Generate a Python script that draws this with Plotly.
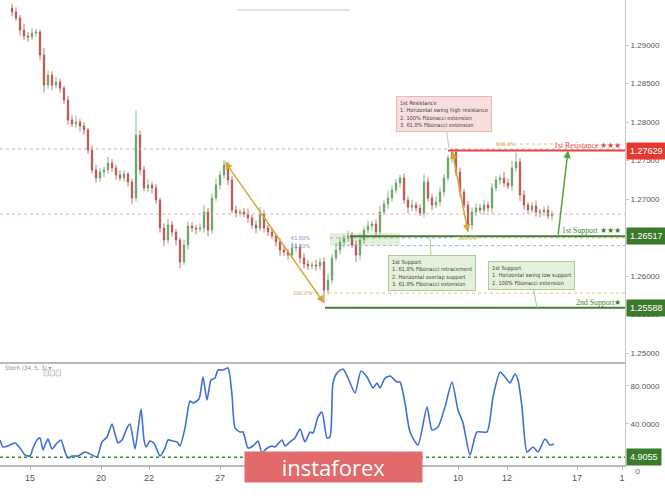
import plotly.graph_objects as go

# ---------------- data ----------------
closes = [1.29429, 1.29351, 1.29195, 1.29117, 1.29104, 1.29156, 1.29169, 1.28870, 1.28481, 1.28610,
          1.28481, 1.28519, 1.28442, 1.28286, 1.28026, 1.27974, 1.28000, 1.27948, 1.27896, 1.27636,
          1.27377, 1.27273, 1.27351, 1.27377, 1.27468, 1.27403, 1.27312, 1.27273, 1.27325, 1.27221,
          1.27013, 1.27831, 1.27377, 1.27143, 1.27182, 1.27143, 1.26987, 1.26623, 1.26468, 1.26662,
          1.26571, 1.26468, 1.26182, 1.26403, 1.26649, 1.26623, 1.26610, 1.26623, 1.26831, 1.26597,
          1.27013, 1.27182, 1.27312, 1.27442, 1.27247, 1.26857, 1.26818, 1.26831, 1.26805, 1.26753,
          1.26662, 1.26623, 1.26805, 1.26623, 1.26571, 1.26519, 1.26442, 1.26338, 1.26312, 1.26273,
          1.26364, 1.26377, 1.26234, 1.26156, 1.26130, 1.26143, 1.26130, 1.26182, 1.25818, 1.25948,
          1.26234, 1.26338, 1.26442, 1.26494, 1.26519, 1.26403, 1.26273, 1.26468, 1.26597, 1.26649,
          1.26675, 1.26571, 1.26831, 1.26935, 1.27013, 1.27117, 1.27208, 1.27273, 1.26987, 1.26896,
          1.26922, 1.26883, 1.26818, 1.27221, 1.27013, 1.26922, 1.26961, 1.27091, 1.27273, 1.27532,
          1.27610, 1.27351, 1.27091, 1.26922, 1.26662, 1.26831, 1.26883, 1.26857, 1.26922, 1.26883,
          1.27143, 1.27247, 1.27273, 1.27208, 1.27169, 1.27403, 1.27481, 1.27052, 1.26922, 1.26857,
          1.26909, 1.26831, 1.26831, 1.26857, 1.26779, 1.26805]
first_open = 1.29480
upper_wick_pips = [5, 6, 4, 8, 5, 6, 4, 3, 9, 6,
                   5, 7, 4, 3, 5, 6, 8, 4, 5, 3,
                   6, 7, 5, 4, 8, 5, 4, 6, 5, 3,
                   4, 32, 6, 5, 7, 4, 5, 3, 6, 8,
                   5, 4, 3, 7, 6, 5, 4, 6, 9, 5,
                   6, 8, 5, 6, 4, 5, 6, 4, 5, 7,
                   4, 6, 9, 5, 4, 6, 3, 5, 6, 4,
                   8, 5, 4, 6, 5, 4, 7, 5, 6, 8,
                   5, 9, 6, 4, 7, 5, 6, 8, 5, 7,
                   4, 6, 8, 5, 9, 6, 5, 4, 6, 5,
                   7, 4, 5, 10, 6, 5, 7, 6, 5, 4,
                   3, 5, 6, 4, 5, 6, 6, 5, 7, 4,
                   6, 5, 4, 8, 6, 9, 12, 5, 6, 4,
                   5, 7, 4, 5, 6, 4]
lower_wick_pips = [6, 4, 7, 5, 6, 4, 5, 6, 10, 5,
                   7, 4, 6, 5, 6, 4, 5, 7, 6, 5,
                   4, 6, 5, 7, 4, 5, 6, 4, 5, 6,
                   8, 5, 6, 4, 5, 7, 5, 6, 8, 5,
                   6, 7, 8, 4, 6, 5, 7, 4, 6, 8,
                   5, 4, 6, 5, 7, 4, 6, 5, 4, 6,
                   5, 7, 4, 6, 5, 4, 6, 8, 5, 6,
                   4, 5, 7, 6, 5, 4, 6, 5, 17, 6,
                   5, 4, 6, 7, 5, 4, 9, 6, 5, 4,
                   6, 7, 5, 4, 6, 5, 4, 6, 5, 8,
                   6, 5, 4, 6, 5, 7, 4, 5, 6, 4,
                   6, 5, 7, 4, 9, 6, 5, 4, 6, 5,
                   7, 4, 6, 5, 4, 6, 5, 8, 6, 5,
                   4, 6, 7, 5, 4, 6]

stoch_idx = [-3, -2.25, -0.5, 0.75, 2, 3.25, 4.5, 5.25, 6.25, 7, 7.75, 8.25, 9, 10, 11.25, 12.25,
             13.25, 14, 15, 16.5, 18.25, 20, 21.25, 22.5, 23.75, 25, 25.75, 26.5, 27.5, 28.75, 29.5,
             30.75, 31.5, 32.25, 33, 33.5, 34.5, 35.5, 37, 38.25, 39, 40.25, 41.25, 42, 43.25, 44.5,
             45.25, 46.75, 47.75, 48.75, 49.75, 50.75, 51.5, 52.75, 54, 55, 55.75, 57, 57.75, 59,
             60.25, 61.5, 62.5, 63.5, 65, 65.75, 67.5, 68.25, 69.5, 70.75, 72, 73.25, 74.5, 75.25,
             76.5, 77.5, 78.75, 79.5, 80.25, 81.25, 82.75, 84, 85.75, 87.25, 88.75, 90.25, 91.25, 92,
             93.25, 94.5, 96.25, 97, 98.25, 99.5, 101.5, 103.75, 105, 106.5, 108.25, 110, 111.5,
             112.75, 114.5, 116.25, 118.75, 120.25, 122, 123.25, 124.5, 125.75, 126.5, 127.5, 128.75,
             130.25, 131.5, 133.25, 134.5, 135.5]
stoch_vals = [23.2, 15.8, 17.9, 20.0, 14.7, 7.4, 6.3, 14.7, 23.2, 25.3, 12.6, 17.9, 24.2, 13.7, 20.0, 23.2,
              10.5, 4.2, 6.3, 6.3, 10.5, 7.4, 5.3, 21.1, 26.3, 40.0, 29.5, 20.0, 23.2, 35.8, 40.0,
              13.7, 33.7, 55.8, 23.2, 15.8, 22.1, 20.0, 6.3, 14.7, 23.2, 22.1, 21.1, 16.8, 35.8, 64.2,
              62.1, 66.3, 89.5, 65.3, 86.3, 88.4, 96.8, 96.8, 98.9, 70.5, 35.8, 31.6, 31.6, 14.7,
              16.8, 22.1, 9.5, 13.7, 16.8, 15.8, 23.2, 16.8, 21.1, 25.3, 34.7, 21.1, 31.6, 30.5,
              47.4, 52.6, 25.3, 26.3, 83.2, 93.7, 97.9, 88.4, 72.6, 95.8, 89.5, 77.9, 83.2, 77.9,
              88.4, 90.5, 84.2, 84.2, 62.1, 31.6, 17.9, 57.9, 33.7, 36.8, 57.9, 84.2, 54.7,
              41.1, 7.4, 31.6, 31.6, 68.4, 94.7, 89.5, 83.2, 92.6, 86.3, 57.9, 10.5,
              15.8, 10.5, 24.2, 17.9, 18.9]

price_ticks = [1.250, 1.255, 1.260, 1.270, 1.275, 1.280, 1.285, 1.290]
date_tick_pos = [4.5, 22.25, 34.25, 52, 64, 81.25, 93.75, 111.5, 123.75, 141.25, 152.5]
date_tick_text = ["15", "20", "22", "27", "", "", "", "10", "12", "17", "1"]
stoch_ticks = [40, 80]

resistance_1 = 1.27629
support_1 = 1.26517
support_2 = 1.25588
stoch_level = 4.9055
current_price = 1.26805
res_dotted = 1.27649
fib_ext_top = 1.27714
fib_618_a = 1.26494
fib_618_b = 1.26395
fib_100_low = 1.25779

# ---------------- derived OHLC ----------------
idx = list(range(len(closes)))
opens = [first_open] + closes[:-1]
highs = [max(o, c) + u * 1e-4 for o, c, u in zip(opens, closes, upper_wick_pips)]
lows = [min(o, c) - d * 1e-4 for o, c, d in zip(opens, closes, lower_wick_pips)]

X_MIN, X_MAX = -3, 153.25
SPLIT = 102 / 465.0

fig = go.Figure()
fig.add_trace(go.Candlestick(
    x=idx, open=opens, high=highs, low=lows, close=closes,
    increasing=dict(line=dict(color="#6aa56a", width=0.8), fillcolor="#3c8c3c"),
    decreasing=dict(line=dict(color="#b85050", width=0.8), fillcolor="#c0392b"),
    whiskerwidth=0, xaxis="x", yaxis="y", hoverinfo="skip"))
fig.add_trace(go.Scatter(
    x=stoch_idx, y=stoch_vals, mode="lines", xaxis="x", yaxis="y2",
    line=dict(color="#3d6fd6", width=1.6, shape="spline", smoothing=0.6), hoverinfo="skip"))

shapes = []
def hline(y, x0, x1, color, width=1, dash="solid", yref="y"):
    shapes.append(dict(type="line", xref="x", yref=yref, x0=x0, x1=x1, y0=y, y1=y,
                       line=dict(color=color, width=width, dash=dash), layer="above"))

hline(res_dotted, X_MIN, X_MAX, "#b0b0e6", 1, "dot")
hline(current_price, X_MIN, X_MAX, "#f2a8a8", 1, "dot")
shapes.append(dict(type="rect", xref="x", yref="y", x0=79.5, x1=97, y0=fib_618_b, y1=1.26560,
                   fillcolor="rgba(175,215,150,0.35)", line=dict(width=0), layer="below"))
hline(resistance_1, 109, X_MAX, "#e8453c", 2)
hline(fib_ext_top, 121, 137, "#e2c47a", 1, "dot")
hline(fib_618_a, 79.5, 110, "#b4a8e0", 1, "dot")
hline(fib_618_a, 112, X_MAX, "#e2c47a", 1, "dot")
hline(fib_618_b, 80.75, X_MAX, "#9bb8ec", 1, "dot")
hline(support_1, 84.5, X_MAX, "#3f7f2f", 2)
hline(fib_100_low, 74.5, X_MAX, "#e2c47a", 1, "dot")
hline(support_2, 78.25, X_MAX, "#3f7f2f", 2)
hline(stoch_level, X_MIN, X_MAX, "#3f8f2f", 1.5, "dot", yref="y2")
shapes.append(dict(type="line", xref="paper", yref="paper", x0=0, x1=1, y0=SPLIT, y1=SPLIT,
                   line=dict(color="#b8b8b8", width=2)))
shapes.append(dict(type="line", xref="paper", yref="paper", x0=237 / 625, x1=350 / 625,
                   y0=(465 - 10) / 465, y1=(465 - 10) / 465, line=dict(color="#e2e2e2", width=2)))
for k in range(3):
    x0 = (44 + k * 6) / 625
    shapes.append(dict(type="rect", xref="paper", yref="paper", x0=x0, x1=x0 + 4.5 / 625,
                       y0=(465 - 376) / 465, y1=(465 - 370) / 465,
                       line=dict(color="#cfcfcf", width=1), fillcolor="#f2f2f2"))

ann = []
serif = "Liberation Serif, Times New Roman, serif"
narrow = "Liberation Sans Narrow, DejaVu Sans Condensed, Liberation Sans, sans-serif"

def level_text(text, y, color):
    ann.append(dict(xref="paper", yref="y", x=0.997, y=y, xanchor="right", yanchor="bottom",
                    text=text, showarrow=False, font=dict(family=serif, size=7.8, color=color), yshift=-1))

level_text("1st Resistance ★★★", resistance_1, "#e8453c")
level_text("1st Support ★★★", support_1, "#3f7f2f")
level_text("2nd Support★", support_2, "#3f7f2f")

def small(text, x, y, color):
    ann.append(dict(xref="x", yref="y", x=x, y=y, text=text, showarrow=False,
                    font=dict(family=narrow, size=5.5, color=color)))

small("100.0%", 123.25, fib_ext_top, "#c9a455")
small("61.80%", 72, fib_618_a, "#8f84c8")
small("61.80%", 72, fib_618_b, "#6f95d8")
small("100.0%", 72.5, fib_100_low, "#c9a455")
small("100.0%", 113.75, fib_618_a, "#c9a455")

def arrow(x_head, y_head, x_tail, y_tail, color, side="end"):
    ann.append(dict(xref="x", yref="y", axref="x", ayref="y", x=x_head, y=y_head, ax=x_tail, ay=y_tail,
                    text="", showarrow=True, arrowhead=2, arrowside=side, arrowsize=1,
                    arrowwidth=1.5, arrowcolor=color))

arrow(78, lows[78], 53, highs[53], "#d8a53a", "end+start")
arrow(114, lows[114], 110, highs[110], "#d8a53a", "end+start")
arrow(139, resistance_1, 136.5, support_1, "#5a9e42")

def callout(text, x, y, ax, ay, bg, border):
    ann.append(dict(xref="x", yref="y", x=x, y=y, ax=ax, ay=ay, text=text, align="left",
                    showarrow=True, arrowhead=0, arrowwidth=1, arrowcolor=border,
                    bgcolor=bg, bordercolor=border, borderwidth=1, borderpad=3,
                    font=dict(family=narrow, size=5.6, color="#444")))

callout("1st Resistance<br>1. Horizontal swing high resistance<br>2. 100% Fibonacci extension"
        "<br>3. 61.8% Fibonacci extension", 109.25, 1.27662, -5, -34, "#f9dede", "#e6b9b9")
callout("1st Support<br>1. 61.8% Fibonacci retracement<br>2. Horizontal overlap support"
        "<br>3. 61.8% Fibonacci extension", 104.5, fib_618_a, 2, 35, "#e4f1da", "#a9cc98")
callout("1st Support<br>1. Horizontal swing low support<br>2. 100% Fibonacci extension",
        131.25, support_2, -6, -32, "#e4f1da", "#a9cc98")

def price_label(text, y, yref, bg):
    ann.append(dict(xref="paper", yref=yref, x=1, y=y, xanchor="left", xshift=1, text=text,
                    showarrow=False, bgcolor=bg, borderpad=3,
                    font=dict(family="Liberation Sans, Arial, sans-serif", size=9, color="white")))

price_label(f"{resistance_1:.5f}", resistance_1, "y", "#e53a2f")
price_label(f"{support_1:.5f}", support_1, "y", "#3b7a2a")
price_label(f"{support_2:.5f}", support_2, "y", "#3b7a2a")
price_label(f"{stoch_level:.4f}", stoch_level, "y2", "#3b7a2a")

ann.append(dict(xref="paper", yref="paper", x=3 / 625, y=(465 - 373) / 465, xanchor="left",
                text="Stoch (34, 5, 3) ▾", showarrow=False,
                font=dict(family=narrow, size=6, color="#8a8a8a")))
ann.append(dict(xref="paper", yref="paper", x=642 / 625, y=(465 - 478) / 465, text="o",
                showarrow=False, font=dict(family="Liberation Sans", size=9, color="#777")))
ann.append(dict(xref="paper", yref="paper", x=333.5 / 625, y=(465 - 483) / 465, text="instaforex",
                showarrow=False, bgcolor="#e36a6a", width=177, height=30, borderpad=0,
                font=dict(family="Open Sans, Lato, sans-serif", size=22, color="white")))

axis_font = dict(family="Liberation Sans, Arial, sans-serif", size=8, color="#555")
fig.update_layout(
    width=665, height=499,
    margin=dict(l=0, r=40, t=0, b=34),
    paper_bgcolor="white", plot_bgcolor="white",
    showlegend=False, boxgap=0.5,
    shapes=shapes, annotations=ann,
    xaxis=dict(range=[X_MIN, X_MAX], tickvals=date_tick_pos, ticktext=date_tick_text,
               ticks="outside", ticklen=3, tickcolor="#bbb", showgrid=False, zeroline=False,
               showline=True, linecolor="#b8b8b8", linewidth=2, anchor="y2",
               tickfont=dict(family="Liberation Sans, Arial, sans-serif", size=9, color="#555"),
               rangeslider=dict(visible=False)),
    yaxis=dict(domain=[SPLIT, 1], range=[1.248701, 1.295844], side="right", tickvals=price_ticks,
               tickformat=".5f", ticks="outside", ticklen=3, tickcolor="#ccc", showgrid=False,
               zeroline=False, showline=True, linecolor="#c8c8c8", linewidth=1, anchor="x",
               tickfont=axis_font),
    yaxis2=dict(domain=[0, SPLIT], range=[-3.16, 104.2], side="right", tickvals=stoch_ticks,
                tickformat=".4f", ticks="outside", ticklen=3, tickcolor="#ccc", showgrid=False,
                zeroline=False, showline=True, linecolor="#c8c8c8", linewidth=1, anchor="x",
                tickfont=axis_font),
)

fig.write_html("out.html", config={"displayModeBar": False},
               post_script="document.body.style.margin='0';document.body.style.overflow='hidden';")
